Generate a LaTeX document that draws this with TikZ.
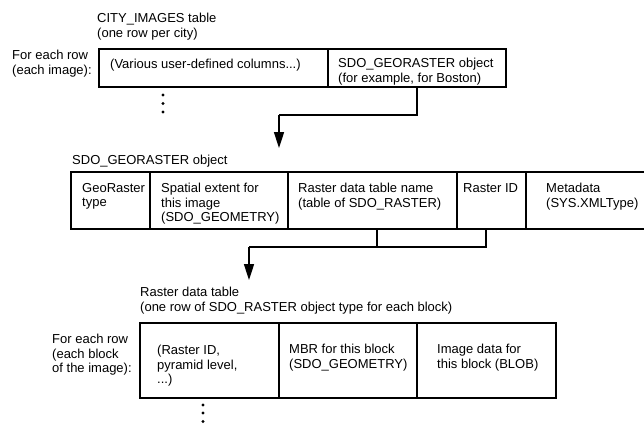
\documentclass[tikz,border=0pt]{standalone}
\usepackage{fontspec}
\setmainfont{Liberation Sans}
\usetikzlibrary{arrows.meta}
\begin{document}
\begin{tikzpicture}[x=1pt,y=-1pt,
  cell/.style={draw, line width=1.6pt, inner sep=0pt, rectangle},
  txt/.style={anchor=north west, inner sep=0pt, align=left, font=\fontsize{13}{14.5}\selectfont},
  conn/.style={line width=1.6pt},
  arr/.style={line width=1.6pt, -{Triangle[length=16pt,width=10pt]}},
  dot/.style={circle, fill, inner sep=0pt, minimum size=3.4pt}]
\useasboundingbox (0,0) rectangle (644,424);
\clip (0,0) rectangle (644,424);
% top table
\node[txt] (t1title) at (97,13) {CITY\_IMAGES table\\(one row per city)};
\node[txt] (t1row) at (12,50) {For each row\\(each image):};
\node[cell, minimum width=229pt, minimum height=38pt] (user) at (213.5,68) {};
\node[cell, minimum width=178pt, minimum height=38pt] (geo) at (417,68) {};
\node[txt] (usertxt) at (110,59) {(Various user-defined columns...)};
\node[txt] (geotxt) at (338,58) {SDO\_GEORASTER object\\(for example, for Boston)};
\node[dot] (d1) at (163,95) {};
\node[dot] (d2) at (163,103.5) {};
\node[dot] (d3) at (163,112) {};
% connector 1
\coordinate (k1) at (417,115);
\coordinate (k2) at (279,115);
\coordinate (tip1) at (279,148);
\draw[conn] (geo.south) -- (k1) -- (k2);
\draw[arr] (k2) -- (tip1);
% middle table
\node[txt] (t2title) at (72,155) {SDO\_GEORASTER object};
\node[cell, minimum width=79pt, minimum height=57pt] (m1) at (110.5,200.5) {};
\node[cell, minimum width=138pt, minimum height=57pt] (m2) at (219,200.5) {};
\node[cell, minimum width=169pt, minimum height=57pt] (m3) at (372.5,200.5) {};
\node[cell, minimum width=69pt, minimum height=57pt] (m4) at (491.5,200.5) {};
\node[cell, minimum width=124pt, minimum height=57pt] (m5) at (588,200.5) {};
\node[txt] (m1t) at (82,183) {GeoRaster\\type};
\node[txt] (m2t) at (161,183) {Spatial extent for\\this image\\(SDO\_GEOMETRY)};
\node[txt] (m3t) at (298,183) {Raster data table name\\(table of SDO\_RASTER)};
\node[txt] (m4t) at (463,183) {Raster ID};
\node[txt] (m5t) at (546,183) {Metadata\\(SYS.XMLType)};
% connector 2
\coordinate (a1) at (377,229);
\coordinate (a2) at (377,247);
\coordinate (b1) at (486,229);
\coordinate (b2) at (486,247);
\coordinate (c2) at (249,247);
\coordinate (tip2) at (249,280);
\draw[conn] (a1) -- (a2);
\draw[conn] (b1) -- (b2) -- (c2);
\draw[arr] (c2) -- (tip2);
% bottom table
\node[txt] (t3title) at (140,287) {Raster data table\\(one row of SDO\_RASTER object type for each block)};
\node[txt] (t3row) at (52,334) {For each row\\(each block\\of the image):};
\node[cell, minimum width=139pt, minimum height=75pt] (r1) at (209.5,360.5) {};
\node[cell, minimum width=138pt, minimum height=75pt] (r2) at (348,360.5) {};
\node[cell, minimum width=139pt, minimum height=75pt] (r3) at (486.5,360.5) {};
\node[txt] (r1t) at (157,345) {(Raster ID,\\pyramid level,\\...)};
\node[txt] (r2t) at (289,344) {MBR for this block\\(SDO\_GEOMETRY)};
\node[txt] (r3t) at (437,344) {Image data for\\this block (BLOB)};
\node[dot] (e1) at (203,405) {};
\node[dot] (e2) at (203,413) {};
\node[dot] (e3) at (203,421.5) {};
\end{tikzpicture}
\end{document}
